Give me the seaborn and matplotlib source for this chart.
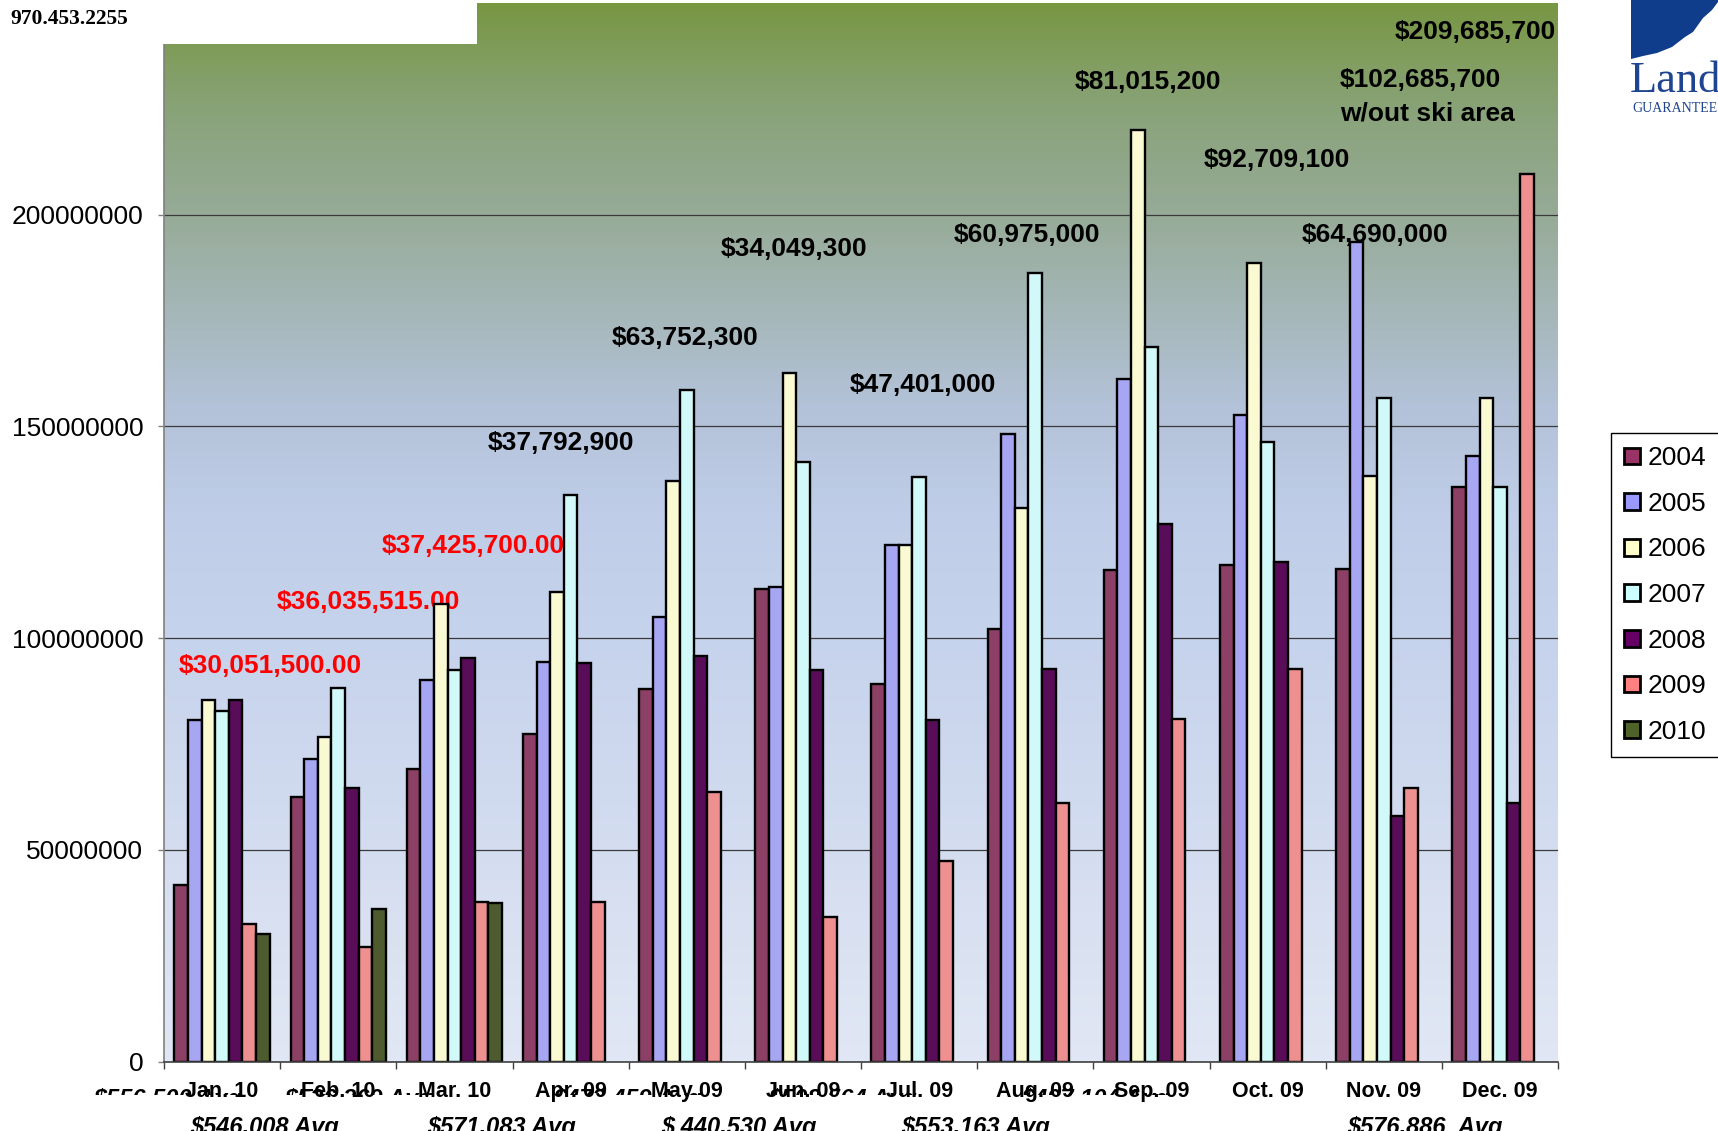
import numpy as np
import pandas as pd
import seaborn as sns
import matplotlib.pyplot as plt
from matplotlib.colors import LinearSegmentedColormap
from matplotlib.patches import Rectangle, Polygon
from matplotlib.transforms import Bbox

# ---- data (millions of $) ----
months = ['Jan. 10', 'Feb. 10', 'Mar. 10', 'Apr. 09', 'May 09', 'Jun. 09',
          'Jul. 09', 'Aug. 09', 'Sep. 09', 'Oct. 09', 'Nov. 09', 'Dec. 09']
years = ['2004', '2005', '2006', '2007', '2008', '2009', '2010']

v2004 = [41.6, 62.6, 69.0, 77.3, 88.1, 111.7, 89.2, 102.2, 116.0, 117.3, 116.3, 135.6]
v2005 = [80.6, 71.4, 90.2, 94.4, 104.9, 112.2, 122.0, 148.2, 161.3, 152.6, 193.5, 143.0]
v2006 = [85.5, 76.6, 108.0, 110.8, 137.1, 162.7, 122.0, 130.7, 220.0, 188.7, 138.2, 156.6]
v2007 = [82.7, 88.3, 92.4, 133.9, 158.7, 141.7, 138.1, 186.3, 168.7, 146.4, 156.8, 135.6]
v2008 = [85.3, 64.5, 95.2, 94.2, 95.7, 92.5, 80.6, 92.7, 127.0, 118.0, 57.9, 61.0]
v2009 = [32.6, 27.0, 37.7, 37.79, 63.75, 34.05, 47.40, 60.98, 81.02, 92.71, 64.69, 209.69]
v2010 = [30.05, 36.04, 37.43] + [np.nan] * 9

colors = ['#993366', '#9999FF', '#FFFFCC', '#CCFFFF', '#660066', '#FF8080', '#4F6228']

yticks = [0, 50000000, 100000000, 150000000, 200000000]
ytick_labels = ['0', '50000000', '100000000', '150000000', '200000000']

# annotations: text, x (category units), y ($), colour
notes = [
    ('$30,051,500.00', -0.374, 93.5e6, 'red'),
    ('$36,035,515.00', 0.466, 108.5e6, 'red'),
    ('$37,425,700.00', 1.371, 121.7e6, 'red'),
    ('$37,792,900', 2.29, 146.2e6, 'black'),
    ('$63,752,300', 3.357, 170.8e6, 'black'),
    ('$34,049,300', 4.293, 192.0e6, 'black'),
    ('$47,401,000', 5.405, 159.7e6, 'black'),
    ('$60,975,000', 6.302, 195.3e6, 'black'),
    ('$81,015,200', 7.343, 231.3e6, 'black'),
    ('$92,709,100', 8.448, 212.9e6, 'black'),
    ('$64,690,000', 9.298, 195.3e6, 'black'),
    ('$102,685,700', 9.62, 231.8e6, 'black'),
    ('w/out ski area', 9.62, 223.8e6, 'black'),
    ('$209,685,700', 10.09, 243.1e6, 'black'),
]

avg_row2 = [('$546,008 Avg', 190), ('$571,083 Avg', 427), ('$ 440,530 Avg', 661),
            ('$553,163 Avg', 901), ('$576,886  Avg', 1347)]
avg_row1 = [('$556,500 Avg', 93), ('$526,269 Avg', 284), ('$473,459 Avg', 553),
            ('$508,564 Avg', 768), ('$497,104 Avg', 1021)]

df = pd.DataFrame({
    'Month': months * len(years),
    'Year': np.repeat(years, len(months)),
    'Value': np.concatenate([v2004, v2005, v2006, v2007, v2008, v2009, v2010]) * 1e6,
})

plt.rcParams['font.family'] = ['Liberation Sans', 'DejaVu Sans']

W, H = 1718, 1131
fig = plt.figure(figsize=(W / 100, H / 100), dpi=100)
ax = fig.add_axes([164 / W, 1 - 1061.6 / H, 1394 / W, 1058.6 / H])

# background gradient
cmap = LinearSegmentedColormap.from_list('bg', [
    (0.0, '#e1e7f4'), (0.2, '#d4ddf0'), (0.4, '#c6d3ec'), (0.52, '#bfcde8'),
    (0.62, '#b3c2d8'), (0.8, '#97ab98'), (0.9, '#89a379'), (1.0, '#789743')])
grad = np.linspace(0, 1, 256).reshape(-1, 1)
ax.imshow(grad, cmap=cmap, aspect='auto', origin='lower',
          extent=[-0.5, 11.5, 0, 250e6], zorder=0)

sns.barplot(df, x='Month', y='Value', hue='Year', order=months, hue_order=years,
            palette=dict(zip(years, colors)), width=0.82, edgecolor='black',
            linewidth=1.7, errorbar=None, legend=False, ax=ax, zorder=2)

ax.set_xlim(-0.5, 11.5)
ax.set_ylim(0, 250e6)
ax.set_xlabel('')
ax.set_ylabel('')

ax.set_yticks(yticks, ytick_labels)
ax.tick_params(axis='y', length=4, width=1, color='#808080', pad=11, labelsize=19)
ax.set_xticks(range(len(months)), months)
ax.set_xticks(np.arange(-0.5, 12, 1), minor=True)
ax.tick_params(axis='x', which='major', length=0, pad=14, labelsize=15.5)
ax.tick_params(axis='x', which='minor', length=5, width=1, color='#404040')
for t in ax.get_xticklabels():
    t.set_fontweight('bold')

ax.yaxis.grid(True, color='#3a3a3a', linewidth=0.9)
ax.set_axisbelow(True)
for s in ['top', 'right']:
    ax.spines[s].set_visible(False)
ax.spines['left'].set_color('#808080')
ax.spines['left'].set_linewidth(1.2)
ax.spines['bottom'].set_color('#404040')
ax.spines['bottom'].set_linewidth(1.2)

for txt, x, y, c in notes:
    ax.text(x, y, txt, color=c, fontsize=19, fontweight='bold', ha='left',
            va='center', zorder=1.5)

# legend
handles = [Rectangle((0, 0), 1, 1, facecolor=c, edgecolor='black', linewidth=2)
           for c in colors]
leg = fig.legend(handles, years, loc='upper left', bbox_to_anchor=(1611 / W, 1 - 433 / H),
                 fontsize=19, frameon=True, fancybox=False, framealpha=1,
                 edgecolor='black', handlelength=0.6, handleheight=0.6,
                 handletextpad=0.3, labelspacing=0.82, borderpad=0.5, borderaxespad=0)
leg.get_frame().set_linewidth(1)

# white box and phone number at top left
fig.add_artist(Rectangle((0, 1 - 44 / H), 477 / W, 44 / H, transform=fig.transFigure,
                         facecolor='white', edgecolor='none', zorder=10))
fig.text(10 / W, 1 - 19 / H, '970.453.2255', family=['Liberation Serif', 'DejaVu Serif'],
         fontweight='bold', fontsize=15.5, va='center', zorder=11)

# logo
ridge = [(1631, 0), (1718, 0), (1718, 2), (1712, 10), (1703, 18), (1693, 32), (1685, 37),
         (1672, 47), (1657, 53), (1643, 56), (1631, 59)]
fig.add_artist(Polygon([(x / W, 1 - y / H) for x, y in ridge], closed=True,
                       transform=fig.transFigure, facecolor='#0f3d8c', edgecolor='none'))
fig.text(1630 / W, 1 - 81 / H, 'Land', family=['Liberation Serif', 'DejaVu Serif'],
         fontsize=32, color='#1f4591', va='center', ha='left')
fig.text(1632 / W, 1 - 109 / H, 'GUARANTEE', family=['Liberation Serif', 'DejaVu Serif'],
         fontsize=10, color='#1f4591', va='center', ha='left')

# partly hidden average-price labels under the axis
for txt, px in avg_row2:
    fig.text(px / W, 1 - 1134 / H, txt, fontsize=17, fontweight='bold', style='italic',
             va='baseline', ha='left')
clip = Bbox.from_extents(0, H - 1095, W, H - 1080)
for txt, px in avg_row1:
    t = fig.text(px / W, 1 - 1106 / H, txt, fontsize=17, fontweight='bold', style='italic',
                 va='baseline', ha='left')
    t.set_clip_box(clip)
    t.set_clip_on(True)

fig.savefig('out.png', dpi=100)
